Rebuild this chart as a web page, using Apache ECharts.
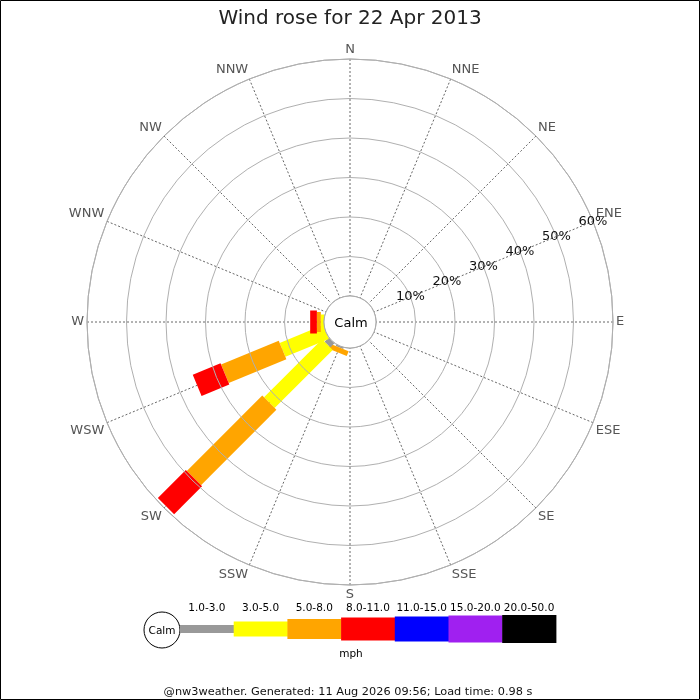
<!DOCTYPE html>
<html>
<head>
<meta charset="utf-8">
<script src="https://cdn.jsdelivr.net/npm/echarts@6/dist/echarts.min.js"></script>
<style>
  html, body { margin: 0; padding: 0; background: #fff; }
  #chart { width: 700px; height: 700px; }
</style>
</head>
<body>
<div id="chart"></div>
<script>
// ---- data ----
const directions = ['N','NNE','NE','ENE','E','ESE','SE','SSE','S','SSW','SW','WSW','W','WNW','NW','NNW'];
const speedRanges = ['1.0-3.0','3.0-5.0','5.0-8.0','8.0-11.0','11.0-15.0','15.0-20.0','20.0-50.0'];
const radiusTicks = [0, 10, 20, 30, 40, 50, 60];
//                 N  NNE NE ENE E ESE SE SSE S  SSW  SW    WSW   W    WNW NW NNW
const range1_3   = [0, 0,  0, 0,  0, 0,  0, 0,  0, 0.4, 1.5,  0,    0,   0,  0, 0];
const range3_5   = [0, 0,  0, 0,  0, 0,  0, 0,  0, 0,   20.8, 11.9, 0.8, 0,  0, 0];
const range5_8   = [0, 0,  0, 0,  0, 0,  0, 0,  0, 1.3, 27.0, 15.8, 1.0, 0,  0, 0];
const range8_11  = [0, 0,  0, 0,  0, 0,  0, 0,  0, 0,   10.0, 7.6,  1.7, 0,  0, 0];
const range11_15 = [0, 0,  0, 0,  0, 0,  0, 0,  0, 0,   0,    0,    0,   0,  0, 0];
const range15_20 = [0, 0,  0, 0,  0, 0,  0, 0,  0, 0,   0,    0,    0,   0,  0, 0];
const range20_50 = [0, 0,  0, 0,  0, 0,  0, 0,  0, 0,   0,    0,    0,   0,  0, 0];
const speedUnit = 'mph';
const calmLabel = 'Calm';
const titleText = 'Wind rose for 22 Apr 2013';
const footerText = '@nw3weather. Generated: 11 Aug 2026 09:56; Load time: 0.98 s';

// ---- styles ----
const rangeColors = ['#999999', '#ffff00', '#ffa500', '#ff0000', '#0000ff', '#a020f0', '#000000'];
const rangeWidths = [8, 15, 20, 23, 25, 27, 28];
const FONT = 'DejaVu Sans';
const CX = 350, CY = 322, R_IN = 26, R_OUT = 263;
const AXIS_START = 22.5;           // radius labels along ENE
const COMPASS_OFFSET = 67.5;       // axis value = compass - 67.5

const allRanges = [range1_3, range3_5, range5_8, range8_11, range11_15, range15_20, range20_50];

function axisValueOfDir(i) {
  return ((i * 22.5 - COMPASS_OFFSET) % 360 + 360) % 360;
}

// stacked segments
const segments = [];
directions.forEach((d, i) => {
  let cum = 0;
  allRanges.forEach((arr, r) => {
    const v = arr[i];
    if (v > 0) {
      segments.push([axisValueOfDir(i), cum, cum + v, r]);
      cum += v;
    }
  });
});

function renderItem(params, api) {
  const ang = api.value(0);
  const start = api.value(1);
  const end = api.value(2);
  const r = api.value(3);
  const p0 = api.coord([start, ang]);
  const p1 = api.coord([end, ang]);
  const pa = api.coord([radiusTicks[0], ang]);
  const pb = api.coord([radiusTicks[radiusTicks.length - 1], ang]);
  const len = Math.hypot(pb[0] - pa[0], pb[1] - pa[1]);
  const ux = (pb[0] - pa[0]) / len, uy = (pb[1] - pa[1]) / len;
  const hw = rangeWidths[r] / 2;
  const nx = -uy * hw, ny = ux * hw;
  return {
    type: 'polygon',
    shape: { points: [
      [p0[0] + nx, p0[1] + ny], [p1[0] + nx, p1[1] + ny],
      [p1[0] - nx, p1[1] - ny], [p0[0] - nx, p0[1] - ny]
    ] },
    style: { fill: rangeColors[r] }
  };
}

// legend graphics
const graphics = [];
graphics.push({
  type: 'rect', z: 200, silent: true,
  shape: { x: 0.5, y: 0.5, width: 699, height: 699 },
  style: { fill: null, stroke: '#000', lineWidth: 1 }
});
graphics.push({
  type: 'circle', z: 100, silent: true,
  shape: { cx: CX, cy: CY, r: R_IN },
  style: { fill: '#fff', stroke: '#aaa', lineWidth: 1 }
});
graphics.push({
  type: 'text', z: 101, silent: true, x: CX + 1, y: CY + 2,
  style: { text: calmLabel, font: '13px "' + FONT + '"', fill: '#000', align: 'center', verticalAlign: 'middle' }
});
const LX0 = 180, LSEG = 53.7, LY = 629;
graphics.push({
  type: 'circle', z: 100, silent: true,
  shape: { cx: 162, cy: LY + 1, r: 18 },
  style: { fill: '#fff', stroke: '#000', lineWidth: 1 }
});
graphics.push({
  type: 'text', z: 101, silent: true, x: 162, y: LY + 2,
  style: { text: calmLabel, font: '10.5px "' + FONT + '"', fill: '#000', align: 'center', verticalAlign: 'middle' }
});
speedRanges.forEach((lab, i) => {
  const h = rangeWidths[i];
  graphics.push({
    type: 'rect', z: 100, silent: true,
    shape: { x: LX0 + i * LSEG, y: LY - h / 2, width: LSEG + 0.5, height: h },
    style: { fill: rangeColors[i] }
  });
  graphics.push({
    type: 'text', z: 101, silent: true, x: LX0 + i * LSEG + LSEG / 2, y: 608,
    style: { text: lab, font: '10.5px "' + FONT + '"', fill: '#000', align: 'center', verticalAlign: 'middle' }
  });
});
graphics.push({
  type: 'text', z: 101, silent: true, x: 351, y: 654,
  style: { text: speedUnit, font: '10.5px "' + FONT + '"', fill: '#000', align: 'center', verticalAlign: 'middle' }
});
graphics.push({
  type: 'text', z: 101, silent: true, x: 348, y: 692,
  style: { text: footerText, font: '11.3px "' + FONT + '"', fill: '#111', align: 'center', verticalAlign: 'middle' }
});

const chart = echarts.init(document.getElementById('chart'), null, { renderer: 'canvas' });
chart.setOption({
  animation: false,
  backgroundColor: '#fff',
  textStyle: { fontFamily: FONT },
  title: {
    text: titleText, left: 'center', top: 4,
    textStyle: { fontFamily: FONT, fontSize: 20, fontWeight: 'normal', color: '#222' }
  },
  polar: { center: [CX, CY], radius: [R_IN, R_OUT] },
  angleAxis: {
    type: 'value', min: 0, max: 360, interval: 22.5,
    startAngle: AXIS_START, clockwise: true,
    axisLine: { show: true, lineStyle: { color: '#aaa', width: 1 } },
    axisTick: { show: false },
    axisLabel: {
      margin: 3, color: '#555', fontSize: 13, fontFamily: FONT,
      formatter: function (v) {
        if (v >= 360) return '';
        const c = (v + COMPASS_OFFSET) % 360;
        return directions[Math.round(c / 22.5) % 16];
      }
    },
    splitLine: { show: true, lineStyle: { color: '#666', width: 1, type: [2, 2] } }
  },
  radiusAxis: {
    type: 'value', min: radiusTicks[0], max: radiusTicks[radiusTicks.length - 1], interval: 10,
    axisLine: { show: false },
    axisTick: { show: false },
    axisLabel: {
      margin: 0, align: 'center', verticalAlign: 'middle', padding: [3, 0, 0, 0],
      color: '#111', fontSize: 13, fontFamily: FONT,
      formatter: function (v) { return v === 0 ? '' : v + '%'; }
    },
    splitLine: { show: true, lineStyle: { color: '#b0b0b0', width: 1 } },
    z: 50
  },
  series: [{
    type: 'custom',
    coordinateSystem: 'polar',
    renderItem: renderItem,
    encode: { angle: 0, radius: [1, 2] },
    data: segments,
    z: 10
  }],
  graphic: graphics
});
</script>
</body>
</html>
